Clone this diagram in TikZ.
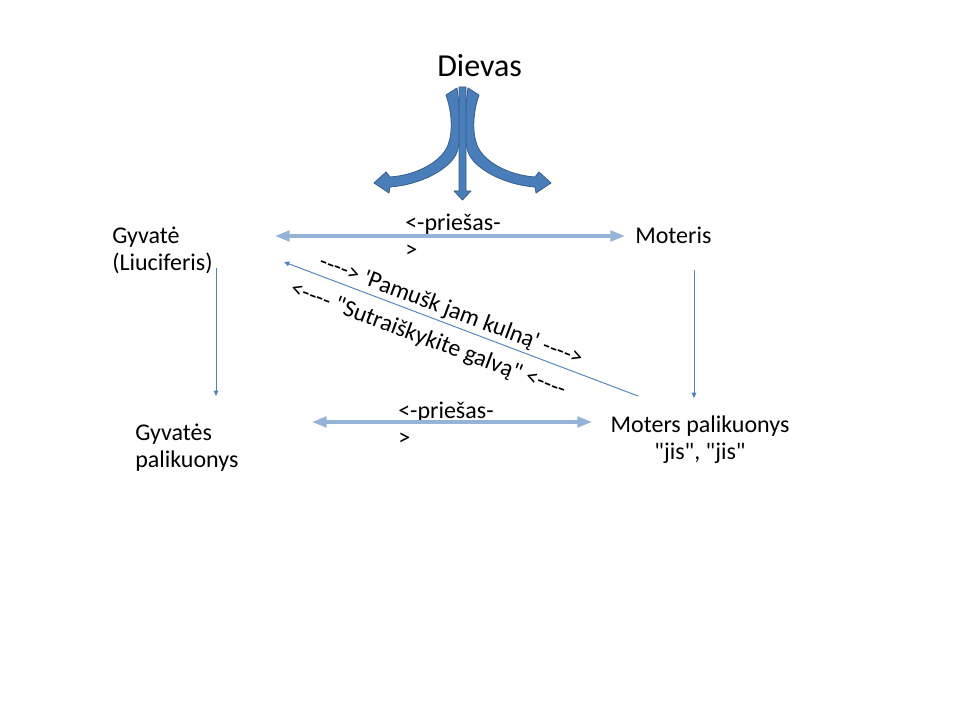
\documentclass[tikz,border=0pt]{standalone}
\usepackage{fontspec}
\setmainfont{Carlito}[Ligatures=TeXOff]
\usetikzlibrary{arrows.meta}
\definecolor{arrfill}{HTML}{4A7EBB}
\definecolor{arrline}{HTML}{385D8A}
\definecolor{lightblue}{HTML}{95B3D7}
\definecolor{thinblue}{HTML}{4F81BD}
\tikzset{
  txt/.style={inner sep=0pt, font=\fontsize{18}{20.25}\selectfont, text=black},
  bigtxt/.style={inner sep=0pt, font=\fontsize{24}{28}\selectfont, text=black},
  thick2way/.style={draw=lightblue, line width=2.4pt, {Triangle[length=11pt,width=8pt]}-{Triangle[length=11pt,width=8pt]}},
  thinarrow/.style={draw=thinblue, line width=0.7pt, -{Triangle[length=4pt,width=3.5pt]}},
  blueshape/.style={fill=arrfill, draw=arrline, line width=0.6pt, line join=round}
}
\begin{document}
\begin{tikzpicture}[x=0.75pt,y=-0.75pt]
\useasboundingbox (0,0) rectangle (960,720);
% texts
\node[bigtxt, anchor=base west] (dievas) at (437,77) {Dievas};
\node[txt, anchor=base west] (gyv1) at (112,244) {Gyvatė};
\node[txt, anchor=base west] (gyv2) at (112,271) {(Liuciferis)};
\node[txt, anchor=base west] (mot) at (635,244) {Moteris};
\node[txt, anchor=base west] (pr1a) at (405,230.5) {<-priešas-};
\node[txt, anchor=base west] (pr1b) at (405,257.5) {>};
\node[txt, anchor=base west] (pr2a) at (398,418) {<-priešas-};
\node[txt, anchor=base west] (pr2b) at (398,445) {>};
\node[txt, anchor=base west] (gp1) at (135,440) {Gyvatės};
\node[txt, anchor=base west] (gp2) at (135,467) {palikuonys};
\node[txt, anchor=base] (mp1) at (700,432) {Moters palikuonys};
\node[txt, anchor=base] (mp2) at (700,459) {"jis", "jis"};
\node[txt, rotate=-20.6] (kulnas) at (451,311) {----> 'Pamušk jam kulną' ---->};
\node[txt, rotate=-20.6] (galva) at (428,340) {<---- "Sutraiškykite galvą" <----};
% connector end points
\coordinate (t1) at (275,236);
\coordinate (t2) at (625,236);
\coordinate (b1) at (312,422);
\coordinate (b2) at (592,422);
\coordinate (d1) at (638,396);
\coordinate (d2) at (284,262);
\coordinate (l1) at (216,268);
\coordinate (l2) at (216,396);
\coordinate (r1) at (694,270);
\coordinate (r2) at (694,398);
\draw[thick2way] (t1) -- (t2);
\draw[thick2way] (b1) -- (b2);
\draw[thinarrow] (d1) -- (d2);
\draw[thinarrow] (l1) -- (l2);
\draw[thinarrow] (r1) -- (r2);
% God's arrows
\path[blueshape] (446,95) -- (457,88)
  .. controls (460,110) and (462,138) .. (457,152)
  .. controls (451,169) and (420,185) .. (390,187)
  -- (389,193) -- (374,183) -- (386,172) -- (390,177)
  .. controls (418,175) and (442,161) .. (448,145)
  .. controls (453,132) and (452,112) .. (446,95) -- cycle;
\path[blueshape] (479,95) -- (468,88)
  .. controls (465,110) and (463,138) .. (468,152)
  .. controls (474,169) and (505,185) .. (535,187)
  -- (536,193) -- (551,183) -- (539,172) -- (535,177)
  .. controls (507,175) and (483,161) .. (477,145)
  .. controls (472,132) and (473,112) .. (479,95) -- cycle;
\path[blueshape] (459,87) -- (466,87) -- (466,191) -- (471,191)
  -- (462.5,200) -- (454,191) -- (459,191) -- cycle;
\end{tikzpicture}
\end{document}
